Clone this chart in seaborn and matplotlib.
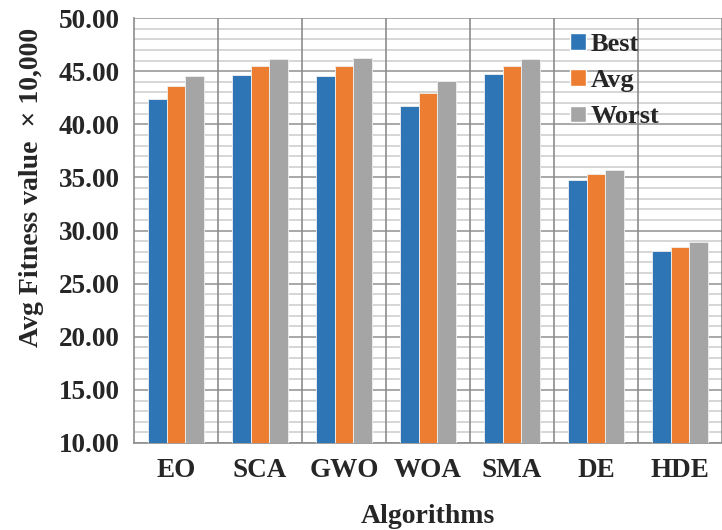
import numpy as np
import pandas as pd
import matplotlib
matplotlib.use("Agg")
import matplotlib.pyplot as plt
import seaborn as sns
from matplotlib.ticker import MultipleLocator, FormatStrFormatter
from matplotlib.patches import Patch

algorithms = ["EO", "SCA", "GWO", "WOA", "SMA", "DE", "HDE"]
best = [42.35, 44.64, 44.57, 41.69, 44.73, 34.72, 28.04]
avg = [43.57, 45.45, 45.45, 42.97, 45.51, 35.29, 28.48]
worst = [44.57, 46.14, 46.20, 44.07, 46.17, 35.69, 28.92]
series = ["Best", "Avg", "Worst"]
colors = ["#2E75B6", "#ED7D31", "#A5A5A5"]

df = pd.DataFrame({
    "Algorithm": algorithms * 3,
    "Series": [s for s in series for _ in algorithms],
    "Value": best + avg + worst,
})

sns.set_style("white")
plt.rcParams["font.family"] = ["Liberation Serif", "DejaVu Serif"]
plt.rcParams["font.weight"] = "bold"

fig = plt.figure(figsize=(7.22, 5.30), dpi=100)
ax = fig.add_axes([134 / 722, 1 - 443 / 530, 1 - 134 / 722, (443 - 18) / 530])

sns.barplot(data=df, x="Algorithm", y="Value", hue="Series", palette=colors,
            saturation=1, width=0.67, gap=0, edgecolor="#f0f0f0", linewidth=0.6,
            ax=ax, legend=False, zorder=3)

ax.set_ylim(10, 50)
ax.set_xlim(-0.5, -0.5 + 588 / 85)
ax.yaxis.set_major_locator(MultipleLocator(5))
ax.yaxis.set_minor_locator(MultipleLocator(1))
ax.yaxis.set_major_formatter(FormatStrFormatter("%.2f"))
ax.grid(which="minor", axis="y", color="#d0d0d0", lw=1.2, zorder=0)
ax.grid(which="major", axis="y", color="#9a9a9a", lw=1.2, zorder=0)
for b in np.arange(0.5, len(algorithms), 1):
    ax.axvline(b, color="#8c8c8c", lw=1.2, zorder=1)

ax.set_xticks(np.arange(-0.5, len(algorithms), 1), minor=True)
ax.tick_params(axis="x", which="major", length=0, pad=11, labelsize=19.5)
ax.tick_params(axis="x", which="minor", length=7, color="#8c8c8c", width=1.2)
ax.tick_params(axis="y", which="major", length=7, color="#8c8c8c", width=1.2,
               labelsize=19.5, pad=3)
ax.tick_params(axis="y", which="minor", length=0)
for lab in ax.get_xticklabels() + ax.get_yticklabels():
    lab.set_fontweight("bold")

for side in ["top", "right"]:
    ax.spines[side].set_visible(False)
for side in ["left", "bottom"]:
    ax.spines[side].set_color("#8c8c8c")
    ax.spines[side].set_linewidth(1.2)

ax.set_xlabel("Algorithms", fontsize=20, fontweight="bold", labelpad=15)
ax.set_ylabel("Avg Fitness value  \u00d7 10,000", fontsize=20, fontweight="bold")
ax.yaxis.set_label_coords(-0.1535, 0.602)

handles = [Patch(facecolor=c, label=s) for s, c in zip(series, colors)]
leg = ax.legend(handles=handles, loc="upper left", bbox_to_anchor=(0.723, 0.99),
                frameon=False, prop={"size": 19, "weight": "bold"},
                handlelength=0.6, handleheight=0.6, handletextpad=0.2,
                labelspacing=0.5, borderaxespad=0)

fig.savefig("out.png", dpi=100)
